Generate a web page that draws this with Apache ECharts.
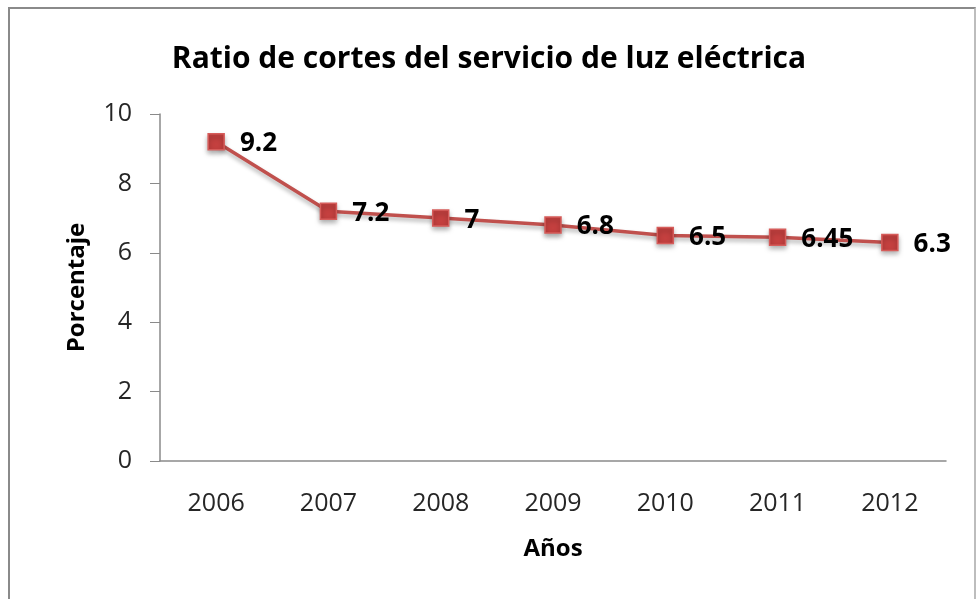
<!DOCTYPE html>
<html>
<head>
<meta charset="utf-8">
<script src="https://cdn.jsdelivr.net/npm/echarts@6/dist/echarts.min.js"></script>
<style>
  html, body { margin: 0; padding: 0; background: #fff; }
  #frame { position: absolute; left: 8px; top: 7px; width: 968px; height: 600px;
           border-left: 2px solid #8a8a8a; border-top: 2px solid #8a8a8a; border-right: 2px solid #bdbdbd; box-sizing: border-box; }
  #chart { position: absolute; left: 0; top: 0; width: 978px; height: 599px; }
</style>
</head>
<body>
<div id="frame"></div>
<div id="chart"></div>
<script>
// datos
const years = ['2006', '2007', '2008', '2009', '2010', '2011', '2012'];
const ratio = [9.2, 7.2, 7, 6.8, 6.5, 6.45, 6.3];
const yTicks = { min: 0, max: 10, interval: 2 };

const chart = echarts.init(document.getElementById('chart'));
const font = 'Open Sans';

const options = {
    animation: false,
    title: {
        text: 'Ratio de cortes del servicio de luz eléctrica',
        left: 'center',
        top: 39,
        textStyle: { fontFamily: font, fontSize: 30, fontWeight: 'bold', color: '#000' }
    },
    grid: { left: 160, right: 32, top: 114, bottom: 138 },
    xAxis: {
        type: 'category',
        data: years,
        boundaryGap: true,
        name: 'Años',
        nameLocation: 'middle',
        nameGap: 76,
        nameTextStyle: { fontFamily: font, fontSize: 24, fontWeight: 'bold', color: '#000' },
        axisLine: { lineStyle: { color: '#8a8a8a', width: 1.5 } },
        axisTick: { show: false },
        axisLabel: { fontFamily: font, fontSize: 25, color: '#262626', margin: 30 }
    },
    yAxis: {
        type: 'value',
        min: yTicks.min,
        max: yTicks.max,
        interval: yTicks.interval,
        name: 'Porcentaje',
        nameLocation: 'middle',
        nameGap: 71,
        nameRotate: 90,
        nameTextStyle: { fontFamily: font, fontSize: 24, fontWeight: 'bold', color: '#000' },
        axisLine: { show: true, lineStyle: { color: '#8a8a8a', width: 1.5 } },
        axisTick: { show: true, length: 10, lineStyle: { color: '#8a8a8a' } },
        splitLine: { show: false },
        axisLabel: { fontFamily: font, fontSize: 25, color: '#262626', margin: 28 }
    },
    series: [{
        type: 'line',
        data: ratio,
        symbol: 'rect',
        symbolSize: 16,
        lineStyle: { color: '#c0504d', width: 3.5, shadowColor: 'rgba(0,0,0,0.3)', shadowBlur: 4, shadowOffsetY: 3 },
        itemStyle: { color: '#c4403f', borderColor: '#d65c5a', borderWidth: 1.5, shadowColor: 'rgba(0,0,0,0.35)', shadowBlur: 5, shadowOffsetY: 3 },
        label: {
            show: true,
            position: 'right',
            distance: 15,
            offset: [0, 2],
            fontFamily: font,
            fontSize: 26,
            fontWeight: 'bold',
            color: '#000'
        }
    }]
};

chart.setOption(options);
window.addEventListener('resize', () => chart.resize());
</script>
</body>
</html>
